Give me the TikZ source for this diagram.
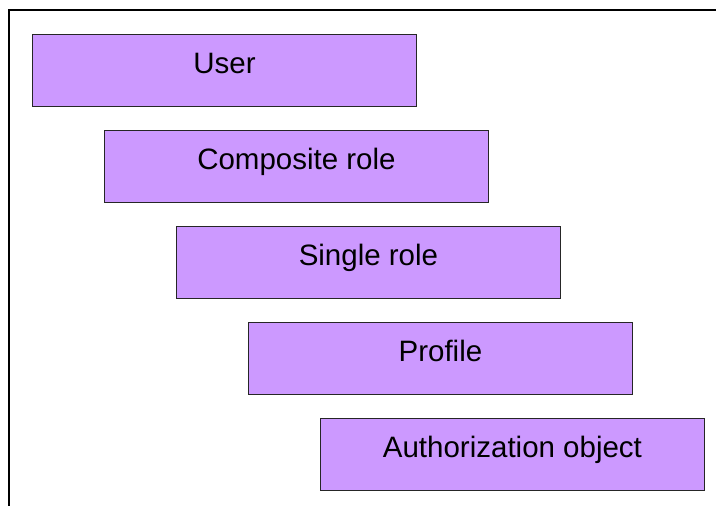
\documentclass[tikz,border=0pt]{standalone}
\usepackage{fontspec}
\setmainfont{Liberation Sans}
\usepackage{xcolor}
\usetikzlibrary{positioning}
\definecolor{RoleLilac}{HTML}{CC99FF}

\begin{document}
\begin{tikzpicture}[
  x=1pt, y=-1pt,
  node distance=23pt,
  level/.style={draw=black!85, line width=0.9pt, fill=RoleLilac, rectangle,
    minimum width=384pt, minimum height=72pt, inner sep=0pt,
    font=\fontsize{29.5}{31}\selectfont, text height=21pt, text depth=14.6pt},
  frame/.style={line width=2pt, black}
]
\useasboundingbox (0,0) rectangle (716,506);
\draw[frame] (8.5,506) -- (8.5,10) -- (716,10);

\node[level, anchor=north west] (user) at (32,34) {User};
\node[level, below=of user, xshift=72pt] (composite) {Composite role};
\node[level, below=of composite, xshift=72pt] (single) {Single role};
\node[level, below=of single, xshift=72pt] (profile) {Profile};
\node[level, below=of profile, xshift=72pt] (authobj) {Authorization object};
\end{tikzpicture}
\end{document}
